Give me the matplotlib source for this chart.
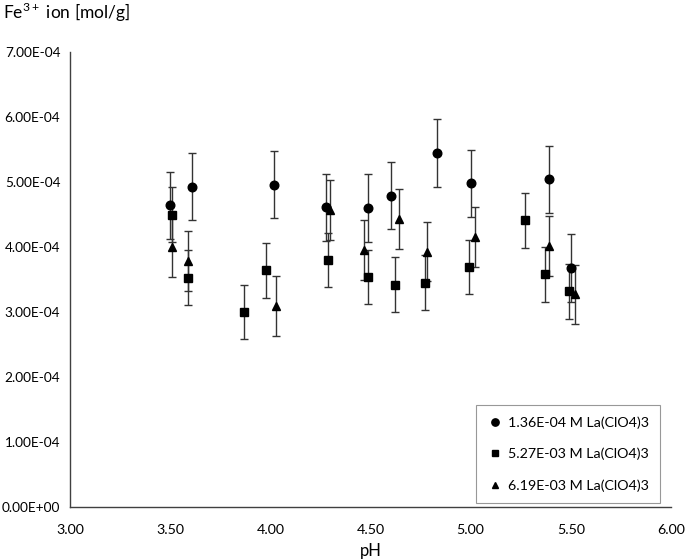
import matplotlib
matplotlib.use("Agg")
import matplotlib.pyplot as plt
from matplotlib.ticker import FuncFormatter
from matplotlib.lines import Line2D

plt.rcParams['font.family'] = ['Lato', 'DejaVu Sans']
plt.rcParams['mathtext.fontset'] = 'custom'
plt.rcParams['mathtext.rm'] = 'Lato'

# Series 1: 1.36E-04 M La(ClO4)3 (circles)
ph_1 = [3.50, 3.61, 4.02, 4.28, 4.49, 4.60, 4.83, 5.00, 5.39, 5.50]
fe_1 = [4.64e-4, 4.93e-4, 4.96e-4, 4.61e-4, 4.60e-4, 4.79e-4, 5.45e-4, 4.98e-4, 5.04e-4, 3.68e-4]
err_1 = 0.52e-4

# Series 2: 5.27E-03 M La(ClO4)3 (squares)
ph_2 = [3.51, 3.59, 3.87, 3.98, 4.29, 4.49, 4.62, 4.77, 4.99, 5.27, 5.37, 5.49]
fe_2 = [4.50e-4, 3.53e-4, 3.00e-4, 3.64e-4, 3.80e-4, 3.54e-4, 3.42e-4, 3.45e-4, 3.69e-4, 4.41e-4, 3.58e-4, 3.32e-4]
err_2 = 0.42e-4

# Series 3: 6.19E-03 M La(ClO4)3 (triangles)
ph_3 = [3.51, 3.59, 4.03, 4.30, 4.47, 4.64, 4.78, 5.02, 5.39, 5.52]
fe_3 = [4.00e-4, 3.78e-4, 3.09e-4, 4.57e-4, 3.96e-4, 4.43e-4, 3.93e-4, 4.16e-4, 4.02e-4, 3.27e-4]
err_3 = 0.46e-4

labels = ['1.36E-04 M La(ClO4)3', '5.27E-03 M La(ClO4)3', '6.19E-03 M La(ClO4)3']
x_ticks = [3.0, 3.5, 4.0, 4.5, 5.0, 5.5, 6.0]
y_ticks = [0, 1e-4, 2e-4, 3e-4, 4e-4, 5e-4, 6e-4, 7e-4]

fig = plt.figure(figsize=(6.85, 5.59), dpi=100)
ax = fig.add_axes([70/685, 1 - 507/559, 601/685, 455/559])

ekw = dict(ecolor='#333333', elinewidth=1.0, capsize=2.6, capthick=1.0, linestyle='none', color='black')
specs = [(ph_1, fe_1, err_1, 'o', 6.2), (ph_2, fe_2, err_2, 's', 5.4), (ph_3, fe_3, err_3, '^', 5.6)]
handles = []
for (xs, ys, e, m, ms), lab in zip(specs, labels):
    ax.errorbar(xs, ys, yerr=e, marker=m, markersize=ms, **ekw)
    handles.append(Line2D([], [], linestyle='none', marker=m, markersize=ms * 0.85, color='black', label=lab))

ax.set_xlim(3.0, 6.0)
ax.set_ylim(0, 7e-4)
ax.set_xticks(x_ticks)
ax.set_yticks(y_ticks)
ax.xaxis.set_major_formatter(FuncFormatter(lambda v, p: f"{v:.2f}"))
ax.yaxis.set_major_formatter(FuncFormatter(lambda v, p: f"{v:.2E}"))
ax.tick_params(length=0, labelsize=10.3, colors='#404040', labelcolor='black')
ax.tick_params(axis='x', pad=12)
ax.tick_params(axis='y', pad=7, labelsize=9.8)
for s in ['top', 'right']:
    ax.spines[s].set_visible(False)
for s in ['left', 'bottom']:
    ax.spines[s].set_color('#404040')
    ax.spines[s].set_linewidth(1.0)

ax.set_xlabel('pH', fontsize=12, labelpad=5)
fig.text(3/685, 1 - 12/559, r'Fe$^{\mathregular{3+}}$ ion [mol/g]', fontsize=12.5, ha='left', va='center')

leg = ax.legend(handles=handles, loc='lower left', bbox_to_anchor=((476-70)/601, (507-503)/455),
                frameon=True, fancybox=False, edgecolor='#7f7f7f', fontsize=10.3,
                labelspacing=1.35, handletextpad=0.3, borderpad=0.75, handlelength=1.2,
                borderaxespad=0)
leg.get_frame().set_linewidth(0.8)

fig.savefig('out.png', dpi=100)
